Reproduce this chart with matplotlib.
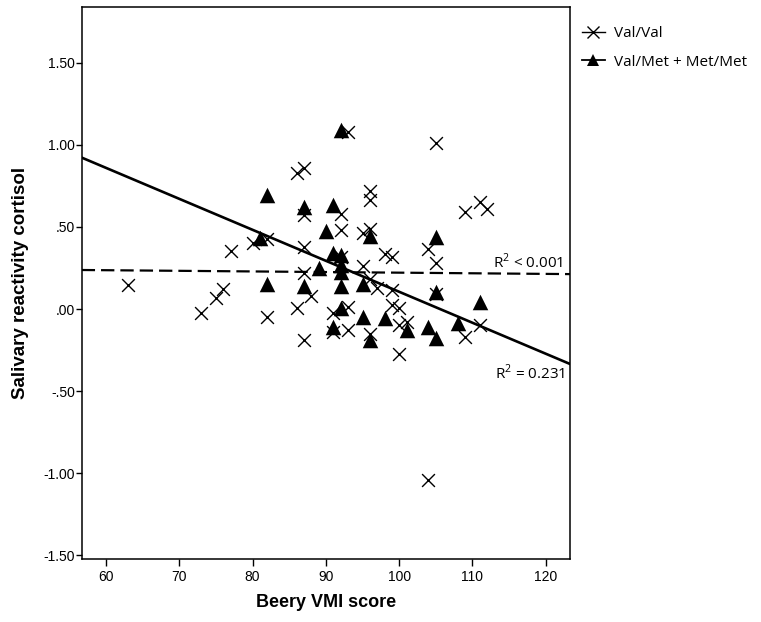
import matplotlib
matplotlib.use("Agg")
import matplotlib.pyplot as plt
from matplotlib.lines import Line2D
import numpy as np

# ---- data ----
valval_x = [63, 73, 75, 76, 77, 80, 82, 86, 87, 96, 96, 87, 92, 92, 95, 96,
            104, 105, 105, 93, 87, 92, 98, 99, 87, 95, 96, 97, 99, 88, 82, 86,
            91, 93, 99, 100, 100, 101, 91, 93, 96, 87, 100, 105, 111, 109, 109,
            111, 112, 104]
valval_y = [0.146, -0.026, 0.065, 0.12, 0.355, 0.40, 0.425, 0.83, 0.86, 0.72,
            0.665, 0.573, 0.579, 0.48, 0.465, 0.49, 0.364, 0.279, 1.01, 1.08,
            0.38, 0.32, 0.335, 0.315, 0.218, 0.262, 0.18, 0.126, 0.116, 0.079,
            -0.047, 0.004, -0.022, 0.01, 0.024, 0.004, -0.098, -0.077, -0.138,
            -0.128, -0.152, -0.189, -0.274, 0.09, -0.098, -0.173, 0.593, 0.654,
            0.608, -1.043]

valmet_x = [81, 82, 87, 90, 91, 92, 96, 105, 91, 92, 92, 92, 89, 82, 87, 92,
            95, 105, 111, 92, 95, 98, 91, 101, 96, 104, 105, 108]
valmet_y = [0.43, 0.695, 0.624, 0.477, 0.634, 1.09, 0.445, 0.437, 0.343, 0.33,
            0.268, 0.228, 0.248, 0.152, 0.14, 0.14, 0.15, 0.106, 0.045, 0.004,
            -0.047, -0.057, -0.108, -0.128, -0.189, -0.108, -0.179, -0.087]

# fit lines (intercept, slope)
fit_valval = (0.259, -0.000375)   # dashed, R2 < 0.001
fit_valmet = (1.994, -0.01889)    # solid, R2 = 0.231

xlim = (56.7, 123.3)
ylim = (-1.524, 1.841)
xticks = [60, 70, 80, 90, 100, 110, 120]
yticks = [-1.5, -1.0, -0.5, 0.0, 0.5, 1.0, 1.5]
ytick_labels = ["-1.50", "-1.00", "-.50", ".00", ".50", "1.00", "1.50"]
legend_labels = ["Val/Val", "Val/Met + Met/Met"]

plt.rcParams["mathtext.fontset"] = "custom"
plt.rcParams["mathtext.rm"] = "Open Sans"

W, H = 761, 622
fig = plt.figure(figsize=(W / 100, H / 100), dpi=100)
ax = fig.add_axes([81.7 / W, 1 - 559 / H, (570 - 81.7) / W, (559 - 7) / H])

tick_font = "Liberation Sans"

ax.scatter(valval_x, valval_y, marker="x", s=85, c="black", linewidths=1.0, zorder=3)
ax.scatter(valmet_x, valmet_y, marker="^", s=125, c="black", linewidths=0, zorder=3)

xs = np.array(xlim)
ax.plot(xs, fit_valval[0] + fit_valval[1] * xs, color="black", lw=1.6,
        linestyle=(0, (6.0, 2.7)), zorder=2)
ax.plot(xs, fit_valmet[0] + fit_valmet[1] * xs, color="black", lw=1.9, zorder=2)

ax.set_xlim(*xlim)
ax.set_ylim(*ylim)
ax.set_xticks(xticks)
ax.set_xticklabels([str(t) for t in xticks], fontfamily=tick_font, fontsize=10)
ax.set_yticks(yticks)
ax.set_yticklabels(ytick_labels, fontfamily=tick_font, fontsize=10)
ax.tick_params(axis="y", direction="out", length=4, width=1.0, pad=1)
ax.tick_params(axis="x", direction="out", length=5, width=1.0, pad=3)
for s in ax.spines.values():
    s.set_linewidth(1.1)

ax.set_xlabel("Beery VMI score", fontsize=13, fontweight="bold",
              fontfamily=tick_font, labelpad=7)
ax.set_ylabel("Salivary reactivity cortisol", fontsize=13.5, fontweight="bold",
              fontfamily=tick_font, labelpad=10)

ax.text(0.986, 0.538, r"R$^2$ < 0.001", transform=ax.transAxes, ha="right",
        va="center", fontsize=11, fontfamily="Open Sans")
ax.text(0.990, 0.337, r"R$^2$ = 0.231", transform=ax.transAxes, ha="right",
        va="center", fontsize=11, fontfamily="Open Sans")

handles = [
    Line2D([0], [0], color="black", lw=1.0, marker="x", markersize=8, markeredgewidth=1.0),
    Line2D([0], [0], color="black", lw=1.3, marker="^", markersize=9, markeredgewidth=0),
]
leg = fig.legend(handles, legend_labels,
                 loc="upper left", bbox_to_anchor=(582 / W, 1 - 26 / H),
                 frameon=False, prop={"family": "Open Sans", "size": 11},
                 handlelength=1.5, handletextpad=0.6, borderpad=0,
                 labelspacing=0.9, borderaxespad=0)

fig.savefig("out.png", dpi=100)
